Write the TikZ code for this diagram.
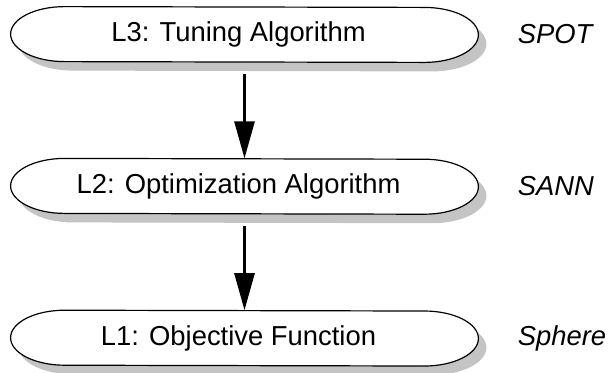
\documentclass[tikz,border=0pt]{standalone}
\usepackage{fontspec}
\setmainfont{Liberation Sans}
\usetikzlibrary{arrows.meta,positioning}
\pgfdeclarelayer{background}
\pgfsetlayers{background,main}
\definecolor{shadowgray}{HTML}{C4C4C4}

\begin{document}
\begin{tikzpicture}[
  x=0.5pt, y=-0.5pt,
  node distance=48pt,
  level/.style={
    rectangle, inner sep=0pt,
    minimum width=179.5pt, minimum height=27.5pt,
    font=\fontsize{13.7}{16}\selectfont,
    execute at end node={\hspace*{6pt}}
  },
  impl/.style={inner sep=0pt, font=\fontsize{13.7}{16}\selectfont\itshape},
  arrow/.style={-{Triangle[length=18.5pt,width=10pt]}, line width=1.35pt, shorten <=6pt}
]
\useasboundingbox (0,0) rectangle (610,372);

\node[level] (tune) at (244.5,34.5) {L3: Tuning Algorithm};
\node[level] (optim) [below=of tune] {L2: Optimization Algorithm};
\node[level] (objfun) [below=of optim] {L1: Objective Function};

\node[impl] (spot) [right=46.5pt of tune] {SPOT};
\node[impl] (sann) [right=46.5pt of optim] {SANN};
\node[impl] (sphere) [right=46.5pt of objfun] {Sphere};

% terminator outlines with shadow
\begin{pgfonlayer}{background}
\foreach \n in {tune,optim,objfun}{
  \fill[shadowgray] ([shift={(4pt,-4.5pt)}]\n.north west)
    arc[start angle=90, end angle=270, x radius=27pt, y radius=13.75pt]
    -- ([shift={(4pt,-4.5pt)}]\n.south east)
    arc[start angle=-90, end angle=90, x radius=27pt, y radius=13.75pt] -- cycle;
  \draw[line width=0.6pt, fill=white] (\n.north west)
    arc[start angle=90, end angle=270, x radius=27pt, y radius=13.75pt]
    -- (\n.south east)
    arc[start angle=-90, end angle=90, x radius=27pt, y radius=13.75pt] -- cycle;
}
\end{pgfonlayer}

\draw[arrow] (tune) -- (optim);
\draw[arrow] (optim) -- (objfun);

\end{tikzpicture}
\end{document}
